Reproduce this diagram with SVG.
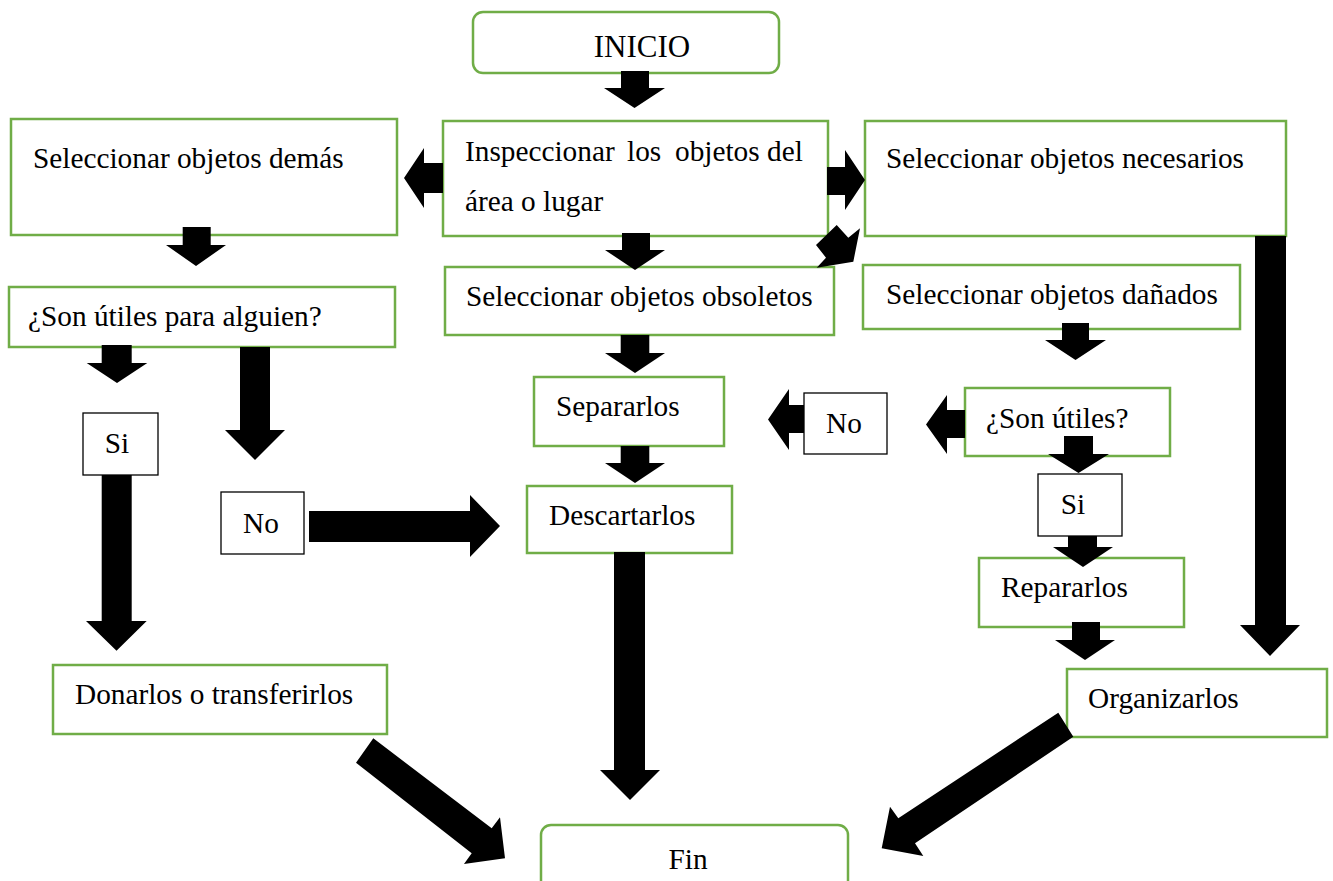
<svg xmlns="http://www.w3.org/2000/svg" width="1333" height="881" viewBox="0 0 1333 881">
  <style>
    .step { fill: #ffffff; stroke: #70AD47; stroke-width: 2.5; }
    .tag { fill: #ffffff; stroke: #000000; stroke-width: 1.3; }
    text { font-family: "Liberation Serif", "Times New Roman", serif; font-size: 29.3px; fill: #000000; }
    .mid { text-anchor: middle; }
    .arrow { fill: #000000; stroke: none; }
  </style>
  <rect width="1333" height="881" fill="#ffffff"/>

  <!-- process steps -->
  <g id="inicio">
    <rect class="step" x="473" y="12" width="306" height="61" rx="10"/>
    <text class="mid" x="642" y="57" style="font-size:31px">INICIO</text>
  </g>
  <g id="inspeccionar">
    <rect class="step" x="443" y="121" width="385" height="115"/>
    <text y="161"><tspan x="465">Inspeccionar</tspan><tspan x="627">los</tspan><tspan x="675">objetos</tspan><tspan x="767">del</tspan></text>
    <text x="465" y="211">área o lugar</text>
  </g>
  <g id="demas">
    <rect class="step" x="11" y="119" width="386" height="116"/>
    <text x="33" y="168">Seleccionar objetos demás</text>
  </g>
  <g id="necesarios">
    <rect class="step" x="865" y="121" width="421" height="115"/>
    <text x="886" y="168">Seleccionar objetos necesarios</text>
  </g>
  <g id="obsoletos">
    <rect class="step" x="445" y="267" width="389" height="68"/>
    <text x="466" y="306">Seleccionar objetos obsoletos</text>
  </g>
  <g id="danados">
    <rect class="step" x="863" y="265" width="377" height="64"/>
    <text x="886" y="304">Seleccionar objetos dañados</text>
  </g>
  <g id="utiles-alguien">
    <rect class="step" x="9" y="287" width="386" height="60"/>
    <text x="28" y="326">¿Son útiles para alguien?</text>
  </g>
  <g id="separar">
    <rect class="step" x="534" y="377" width="190" height="69"/>
    <text x="556" y="416">Separarlos</text>
  </g>
  <g id="descartar">
    <rect class="step" x="527" y="486" width="205" height="67"/>
    <text x="549" y="525">Descartarlos</text>
  </g>
  <g id="utiles">
    <rect class="step" x="965" y="388" width="205" height="68"/>
    <text x="986" y="428">¿Son útiles?</text>
  </g>
  <g id="reparar">
    <rect class="step" x="979" y="558" width="205" height="69"/>
    <text x="1001" y="597">Repararlos</text>
  </g>
  <g id="organizar">
    <rect class="step" x="1067" y="669" width="260" height="68"/>
    <text x="1088" y="708">Organizarlos</text>
  </g>
  <g id="donar">
    <rect class="step" x="53" y="665" width="334" height="69"/>
    <text x="75" y="704">Donarlos o transferirlos</text>
  </g>
  <g id="fin">
    <rect class="step" x="541" y="825" width="307" height="72" rx="10"/>
    <text class="mid" x="688" y="869">Fin</text>
  </g>

  <!-- block arrows -->
  <g id="connectors">
    <polygon class="arrow" points="621,71 649,71 649,88 665,88 634.5,108 604,88 621,88"/>
    <polygon class="arrow" points="622,233 650,233 650,250 665,250 635,270 605,250 622,250"/>
    <polygon class="arrow" points="443,163 443,193 424,193 424,208 404,178 424,148 424,163"/>
    <polygon class="arrow" points="827,167 845,167 845,150 865,180 845,210 845,195 827,195"/>
    <polygon class="arrow" points="836.7,225 848.3,237.7 860,228.3 853.3,261.7 816.7,267.7 826,257.7 816,245"/>
    <polygon class="arrow" points="1255,236 1286,236 1286,625 1300,625 1270,656 1240,625 1255,625"/>
    <polygon class="arrow" points="1062,323 1089,323 1089,340 1106,340 1075.5,360 1045,340 1062,340"/>
    <polygon class="arrow" points="965,410 965,438 947,438 947,454 926,424.5 947,395 947,410"/>
    <polygon class="arrow" points="804,405 804,433 789,433 789,450 768,419.5 789,389 789,405"/>
    <polygon class="arrow" points="1064,436 1093,436 1093,454 1109,454 1078.5,473 1048,454 1064,454"/>
    <polygon class="arrow" points="1068,528 1097,528 1097,547 1113,547 1083,567 1053,547 1068,547"/>
    <polygon class="arrow" points="1072,622 1100,622 1100,640 1115,640 1085,660 1055,640 1072,640"/>
    <polygon class="arrow" points="1058.3,712.7 1073.3,736.7 915,843.3 923.3,856 881.7,848.3 890,806.7 898.3,818.3"/>
    <polygon class="arrow" points="373.3,738.3 491.7,828.3 500,817.3 505,858.3 464,864 471.7,853.3 356,762.7"/>
    <polygon class="arrow" points="182.7,227 210.7,227 210.7,245 226,245 196,266 166,245 182.7,245"/>
    <polygon class="arrow" points="101.7,345 131.7,345 131.7,363 147.3,363 117,383 86.7,363 101.7,363"/>
    <polygon class="arrow" points="240,347 270,347 270,430 285,430 255,460 225,430 240,430"/>
    <polygon class="arrow" points="101.7,474 131.7,474 131.7,621 146.7,621 116.5,650.7 86,621 101.7,621"/>
    <polygon class="arrow" points="309,511 470,511 470,495 500,526 470,557 470,542 309,542"/>
    <polygon class="arrow" points="620.7,335 649.3,335 649.3,353 665,353 635,373 605,353 620.7,353"/>
    <polygon class="arrow" points="620.7,446 649.3,446 649.3,463 665,463 635,483 605,463 620.7,463"/>
    <polygon class="arrow" points="614,552 645,552 645,770 660,770 630,800 600,770 614,770"/>
  </g>

  <!-- branch labels -->
  <g id="no-derecha">
    <rect class="tag" x="804" y="393" width="83" height="61"/>
    <text class="mid" x="844" y="433">No</text>
  </g>
  <g id="si-derecha">
    <rect class="tag" x="1038" y="474" width="84" height="62"/>
    <text class="mid" x="1073" y="514">Si</text>
  </g>
  <g id="si-izquierda">
    <rect class="tag" x="83" y="413" width="75" height="62"/>
    <text class="mid" x="117" y="453">Si</text>
  </g>
  <g id="no-izquierda">
    <rect class="tag" x="221" y="492" width="83" height="62"/>
    <text class="mid" x="261" y="533">No</text>
  </g>
</svg>
